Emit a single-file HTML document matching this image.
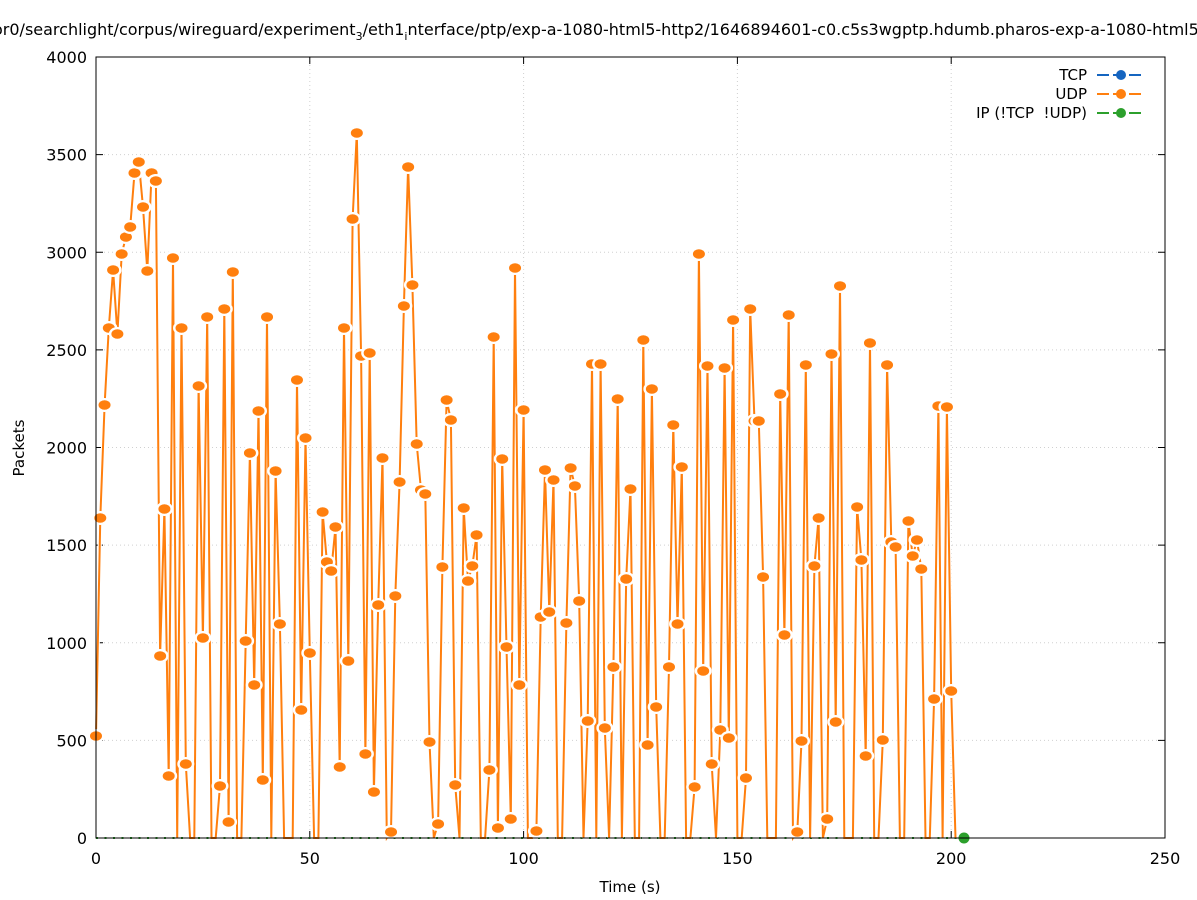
<!DOCTYPE html>
<html><head><meta charset="utf-8"><style>
html,body{margin:0;padding:0;background:#fff;}
svg{display:block;font-family:"DejaVu Sans","Liberation Sans",sans-serif;}
</style></head><body>
<svg id="s" width="1197" height="900" xmlns="http://www.w3.org/2000/svg">
<rect width="1197" height="900" fill="#fff"/>
<g id="grid" stroke="#d0d0d0" stroke-width="1" stroke-dasharray="1,3"></g>
<text x="-7" y="35" font-size="16" fill="#000">or0/searchlight/corpus/wireguard/experiment<tspan font-size="11" dy="5">3</tspan><tspan dy="-5">/eth1</tspan><tspan font-size="11" dy="5">i</tspan><tspan dy="-5">nterface/ptp/exp-a-1080-html5-http2/1646894601-c0.c5s3wgptp.hdumb.pharos-exp-a-1080-html5</tspan></text>
<g id="ticks" font-size="16" fill="#000"></g>
<text x="630" y="892" font-size="15" text-anchor="middle">Time (s)</text>
<text transform="translate(24,448) rotate(-90)" font-size="15" text-anchor="middle">Packets</text>
<g id="data"></g>
<rect x="96" y="57" width="1069" height="781" fill="none" stroke="#000" stroke-width="1"/>
<g font-size="15" text-anchor="end">
<text x="1087" y="80">TCP</text>
<text x="1087" y="99">UDP</text>
<text x="1087" y="118">IP (!TCP&#160;&#160;!UDP)</text>
<line x1="1097" y1="75" x2="1145" y2="75" stroke="#1565c0" stroke-width="2" stroke-dasharray="12,4"/>
<circle cx="1121" cy="75" r="5" fill="#1565c0"/>
<line x1="1097" y1="94" x2="1145" y2="94" stroke="#ff7f0e" stroke-width="2" stroke-dasharray="12,4"/>
<circle cx="1121" cy="94" r="5" fill="#ff7f0e"/>
<line x1="1097" y1="113" x2="1145" y2="113" stroke="#2ca02c" stroke-width="2" stroke-dasharray="12,4"/>
<circle cx="1121" cy="113" r="5" fill="#2ca02c"/>
</g>
</svg>
<script>
var NS="http://www.w3.org/2000/svg";
function el(p,t,a){var e=document.createElementNS(NS,t);for(var k in a)e.setAttribute(k,a[k]);p.appendChild(e);return e;}
var g=document.getElementById('grid'),tk=document.getElementById('ticks'),d=document.getElementById('data');
for(var i=0;i<=5;i++){var x=96+i*213.8;
 if(i>0&&i<5)el(g,'line',{x1:x,y1:57,x2:x,y2:838});
 el(tk,'line',{x1:x,y1:838,x2:x,y2:831,stroke:'#000'});el(tk,'line',{x1:x,y1:57,x2:x,y2:64,stroke:'#000'});
 var t=el(tk,'text',{x:x,y:864,'text-anchor':'middle'});t.textContent=i*50;}
for(var j=0;j<=8;j++){var y=838-j*97.625;
 if(j>0&&j<8)el(g,'line',{x1:96,y1:y,x2:1165,y2:y});
 el(tk,'line',{x1:96,y1:y,x2:103,y2:y,stroke:'#000'});el(tk,'line',{x1:1165,y1:y,x2:1158,y2:y,stroke:'#000'});
 var t=el(tk,'text',{x:87,y:y+6,'text-anchor':'end'});t.textContent=j*500;}
var Y=[736,518,405,328,270,334,254,237,227,173,162,207,271,173,181,656,509,776,258,838,328,764,838,838,386,638,317,838,838,786,309,822,272,838,838,641,453,685,411,780,317,838,471,624,838,838,838,380,710,438,653,838,838,512,562,571,527,767,328,661,219,133,356,754,353,792,605,458,838,832,596,482,306,167,285,444,490,494,742,838,824,567,400,420,785,838,508,581,566,535,838,838,770,337,828,459,647,819,268,685,410,838,838,831,617,470,612,480,838,838,623,468,486,601,838,721,364,838,364,728,838,667,399,838,579,489,838,838,340,745,389,707,838,838,667,425,624,467,838,838,787,254,671,366,764,838,730,368,738,320,838,838,778,309,421,421,577,838,838,838,394,635,315,838,832,741,365,838,566,518,838,819,354,722,286,838,838,838,507,560,756,343,838,838,740,365,542,547,838,838,521,556,540,569,838,838,699,406,838,407,691,838];
el(d,'line',{x1:96,y1:838,x2:964,y2:838,stroke:'#2ca02c','stroke-width':2,'stroke-dasharray':'2,6.5'});
var pts=Y.map(function(y,i){return (96+i*4.276).toFixed(1)+','+y;}).join(' ');
el(d,'polyline',{points:pts,fill:'none',stroke:'#fff','stroke-width':4});
el(d,'polyline',{points:pts,fill:'none',stroke:'#ff7f0e','stroke-width':2});
Y.forEach(function(y,i){if(y>=836)return;var x=96+i*4.276;
 el(d,'ellipse',{cx:x,cy:y,rx:8.5,ry:7,fill:'#fff'});
 el(d,'ellipse',{cx:x,cy:y,rx:6,ry:4.8,fill:'#ff7f0e'});});
el(d,'circle',{cx:964,cy:838,r:5.5,fill:'#2ca02c'});
</script>
</body></html>
